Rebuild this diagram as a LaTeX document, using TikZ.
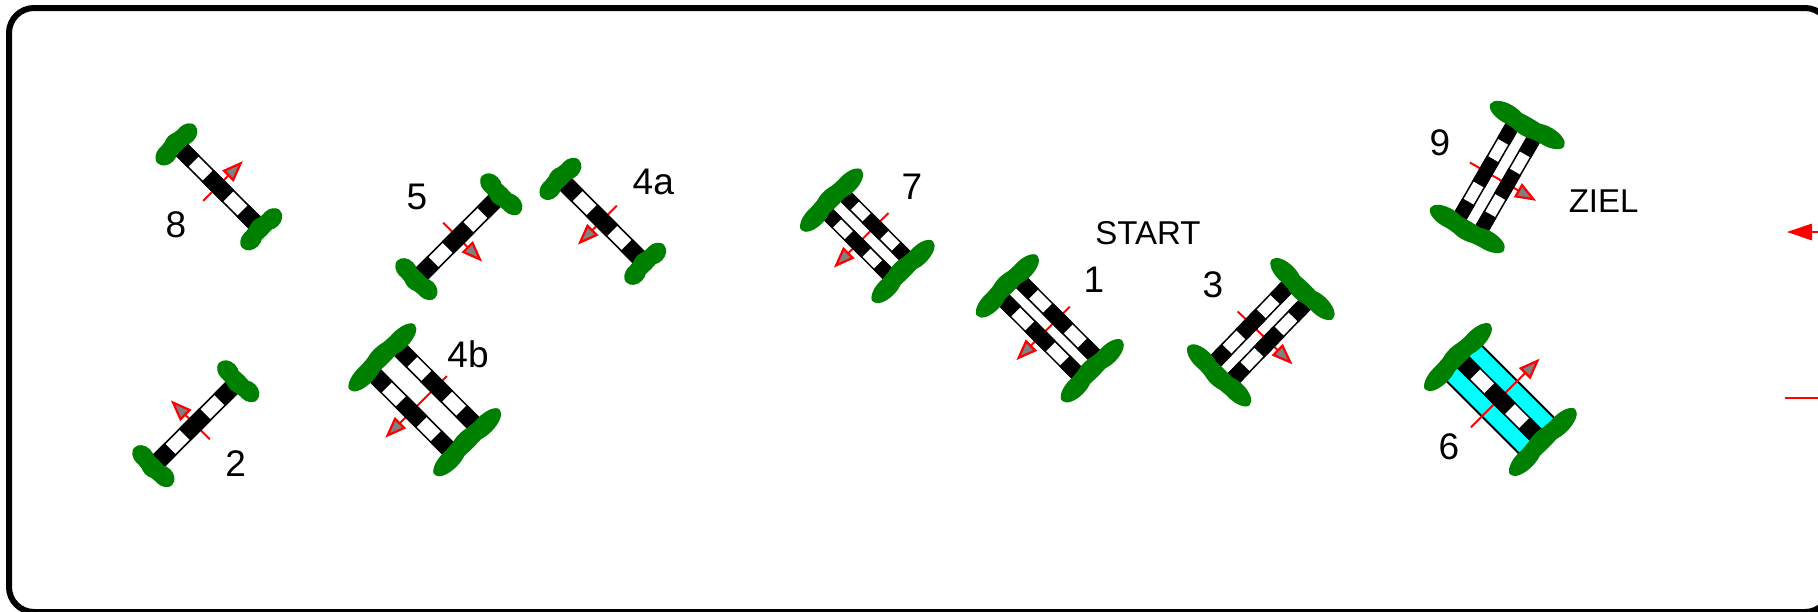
\documentclass[tikz,border=0pt]{standalone}
\usepackage{fontspec}
\setmainfont{Liberation Sans}
\definecolor{hedgegreen}{RGB}{0,128,0}
\definecolor{watercyan}{RGB}{0,255,255}
\tikzset{
    bar/.style={draw=black, line width=1.5pt, fill=white},
    barblack/.style={fill=black, draw=black, line width=1.5pt},
    hedge/.style={fill=hedgegreen},
    redline/.style={draw=red, line width=2pt},
    redhead/.style={draw=red, line width=2.2pt, fill=gray, line join=miter},
    numlabel/.style={inner sep=0pt, font=\fontsize{37}{40}\selectfont},
    wordlabel/.style={inner sep=0pt, font=\fontsize{33}{36}\selectfont},
}
% one bar: #1 offset across, #2 distance of hedges, #3 bar width
\newcommand{\gatebar}[3]{
    \draw[bar] (-0.48*#2,#1-0.5*#3) rectangle (0.48*#2,#1+0.5*#3);
    \draw[barblack] (-0.48*#2,#1-0.5*#3) rectangle (-0.295*#2,#1+0.5*#3);
    \draw[barblack] (-0.115*#2,#1-0.5*#3) rectangle (0.115*#2,#1+0.5*#3);
    \draw[barblack] (0.295*#2,#1-0.5*#3) rectangle (0.48*#2,#1+0.5*#3);
}
% one hedge: #1 position along, #2 length
\newcommand{\gatehedge}[2]{
    \fill[hedge] (#1,0) ellipse [x radius=9, y radius=0.5*#2];
    \foreach \s/\d/\r in {-.27/1.3/.23, 0/-.8/.22, .27/1.1/.23}
        \fill[hedge] (#1+\d,\s*#2) ellipse [x radius=9.5, y radius=\r*#2];
}
% arrow across the gate: #1 tail, #2 tip
\newcommand{\gatearrow}[2]{
    \pgfmathsetmacro{\sg}{#2>#1 ? 1 : -1}
    \draw[redline] (0,#1) -- (0,#2-\sg*16);
    \draw[redhead] (0,#2-\sg*3) -- (-6.5,#2-\sg*20) -- (6.5,#2-\sg*20) -- cycle;
}
\begin{document}
\begin{tikzpicture}[x=1pt,y=1pt]
    \useasboundingbox (0,0) rectangle (1818,-611);
    \clip (0,0) rectangle (1818,-611);

    \draw[line width=6pt, rounded corners=25pt] (9,-8) rectangle (1830,-612);

%single gates
    \begin{scope}[shift={(218,-186)},rotate=-45]
        \gatearrow{-21}{35} \gatebar{0}{120}{15.5} \gatehedge{-60}{53} \gatehedge{60}{53}
    \end{scope}
    \begin{scope}[shift={(458,-237.5)},rotate=45]
        \gatearrow{21}{-34} \gatebar{0}{120}{15.5} \gatehedge{-60}{53} \gatehedge{60}{53}
    \end{scope}
    \begin{scope}[shift={(602,-220.5)},rotate=-45]
        \gatearrow{21}{-34} \gatebar{0}{120}{15.5} \gatehedge{-60}{53} \gatehedge{60}{53}
    \end{scope}
    \begin{scope}[shift={(195,-424.5)},rotate=45]
        \gatearrow{-21}{34} \gatebar{0}{120}{15.5} \gatehedge{-60}{53} \gatehedge{60}{53}
    \end{scope}

%double gates
    \begin{scope}[shift={(424,-399)},rotate=-45]
        \gatearrow{32.5}{-54.5} \gatebar{18}{120}{15.5} \gatebar{-18}{120}{15.5}
        \gatehedge{-60}{92} \gatehedge{60}{92}
    \end{scope}
    \begin{scope}[shift={(866.5,-235)},rotate=-45]
        \gatearrow{31}{-46} \gatebar{12.5}{101}{13} \gatebar{-12.5}{101}{13}
        \gatehedge{-50.5}{85} \gatehedge{50.5}{85}
    \end{scope}
    \begin{scope}[shift={(1049,-327.5)},rotate=-45]
        \gatearrow{29.5}{-46} \gatebar{12.5}{120}{14} \gatebar{-12.5}{120}{14}
        \gatehedge{-60}{85} \gatehedge{60}{85}
    \end{scope}
    \begin{scope}[shift={(1260,-333)},rotate=46]
        \gatearrow{31}{-45} \gatebar{12.5}{120}{14} \gatebar{-12.5}{120}{14}
        \gatehedge{-60}{85} \gatehedge{60}{85}
    \end{scope}
    \begin{scope}[shift={(1496.7,-178)},rotate=60]
        \gatearrow{31}{-45.5} \gatebar{12.5}{120}{13} \gatebar{-12.5}{120}{13}
        \gatehedge{-60}{85} \gatehedge{60}{85}
    \end{scope}

%gate with water
    \begin{scope}[shift={(1499.6,-398.7)},rotate=-45]
        \fill[watercyan] (-55,-25) rectangle (55,25);
        \draw[line width=2pt] (-55,25) -- (55,25);
        \draw[line width=2pt] (-55,-25) -- (55,-25);
        \gatearrow{-40.5}{56.5} \gatebar{0}{120}{15.5}
        \gatehedge{-60}{92} \gatehedge{60}{92}
    \end{scope}

%labels
    \node[numlabel] (lab8) at (176,-225) {8};
    \node[numlabel] (lab5) at (417,-197) {5};
    \node[numlabel] (lab4a) at (653.3,-182) {4a};
    \node[numlabel] (lab7) at (912,-187) {7};
    \node[numlabel] (lab9) at (1440,-143) {9};
    \node[numlabel] (lab1) at (1094,-280) {1};
    \node[numlabel] (lab3) at (1213,-285) {3};
    \node[numlabel] (lab4b) at (468,-354) {4b};
    \node[numlabel] (lab2) at (235.7,-463.3) {2};
    \node[numlabel] (lab6) at (1449,-446.7) {6};
    \node[wordlabel] (start) at (1148,-233) {START};
    \node[wordlabel] (ziel) at (1603.6,-200.8) {ZIEL};

%red marks at the right
    \coordinate (headtip) at (1787,-232);
    \coordinate (headbase) at (1812,-232);
    \coordinate (headend) at (1818,-232);
    \coordinate (lineleft) at (1785,-398);
    \coordinate (lineright) at (1818,-398);
    \fill[red] (headtip) -- ([yshift=8.5pt]headbase) -- ([yshift=-8.5pt]headbase) -- cycle;
    \draw[redline] (headbase) -- (headend);
    \draw[redline] (lineleft) -- (lineright);
\end{tikzpicture}
\end{document}
